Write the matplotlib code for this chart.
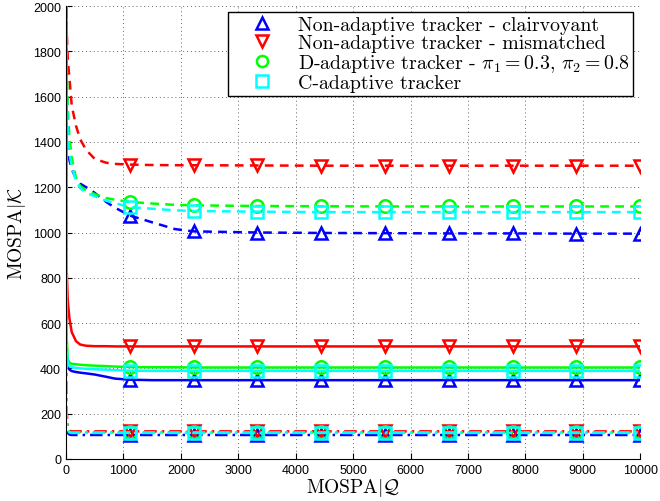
import numpy as np
import matplotlib
matplotlib.use("Agg")
import matplotlib.pyplot as plt
from matplotlib.lines import Line2D
from matplotlib.ticker import MultipleLocator

plt.rcParams['mathtext.fontset'] = 'cm'
plt.rcParams['font.family'] = ['Liberation Sans', 'DejaVu Sans']

# x samples (the marker positions are 1111, 2222, ... 10000)
x = [0, 10, 30, 60, 100, 175, 250, 350, 500, 700, 850,
     1111, 1500, 1900, 2222, 3333, 4444, 5555, 6666, 7777, 8888, 10000]
marker_idx = [11, 14, 15, 16, 17, 18, 19, 20, 21]

# dashed curves
blue_dash = [2000, 1700, 1420, 1320, 1280, 1237, 1215, 1200, 1175, 1135, 1110,
             1075, 1045, 1015, 1005, 1000, 998, 997, 996, 996, 995, 995]
red_dash = [2000, 1900, 1770, 1680, 1560, 1470, 1410, 1365, 1325, 1308, 1303,
            1300, 1298, 1297, 1297, 1296, 1295, 1295, 1295, 1295, 1295, 1295]
green_dash = [2000, 1750, 1550, 1420, 1330, 1240, 1205, 1185, 1170, 1152, 1145,
              1135, 1128, 1122, 1120, 1117, 1116, 1115, 1115, 1115, 1115, 1115]
cyan_dash = [2000, 1650, 1450, 1350, 1290, 1230, 1195, 1175, 1160, 1140, 1130,
             1112, 1105, 1098, 1095, 1092, 1090, 1090, 1090, 1090, 1090, 1090]

# solid curves
blue_solid = [2000, 450, 405, 395, 388, 384, 381, 378, 373, 363, 355,
              350, 348, 348, 348, 348, 348, 348, 348, 348, 348, 348]
red_solid = [2000, 850, 700, 620, 560, 520, 505, 500, 498, 498, 497,
             497, 497, 497, 497, 497, 497, 497, 497, 497, 497, 497]
green_solid = [2000, 550, 440, 425, 420, 418, 416, 414, 412, 410, 408,
               406, 405, 405, 404, 404, 404, 404, 404, 404, 404, 404]
cyan_solid = [2000, 500, 425, 410, 405, 402, 400, 398, 396, 394, 392,
              390, 389, 389, 389, 389, 389, 389, 389, 389, 389, 389]

# dash-dot curves
blue_dd = [2000, 150, 115, 108, 106, 106, 106, 106, 106, 106, 106,
           106, 106, 106, 106, 106, 106, 106, 106, 106, 106, 106]
red_dd = [2000, 220, 140, 125, 122, 122, 122, 122, 122, 122, 122,
          122, 122, 122, 122, 122, 122, 122, 122, 122, 122, 122]
green_dd = [2000, 180, 130, 120, 118, 118, 118, 118, 118, 118, 118,
            118, 118, 118, 118, 118, 118, 118, 118, 118, 118, 118]
cyan_dd = [2000, 170, 125, 117, 115, 115, 115, 115, 115, 115, 115,
           115, 115, 115, 115, 115, 115, 115, 115, 115, 115, 115]

labels = ['Non-adaptive tracker - clairvoyant',
          'Non-adaptive tracker - mismatched',
          r'D-adaptive tracker - $\pi_1 = 0.3$, $\pi_2 = 0.8$',
          'C-adaptive tracker']
colors = ['#0000ff', '#ff0000', '#00ff00', '#00ffff']
markers = ['^', 'v', 'o', 's']

dashed = [blue_dash, red_dash, green_dash, cyan_dash]
solid = [blue_solid, red_solid, green_solid, cyan_solid]
dashdot = [blue_dd, red_dd, green_dd, cyan_dd]

fig = plt.figure(figsize=(6.6, 5.02), dpi=100)
ax = fig.add_axes([0.1, 0.0837, 0.87, 0.9023])

styles = [(dashed, (0, (3.5, 2.5))), (solid, '-'), (dashdot, (0, (5, 2, 1, 2)))]
for data, ls in styles:
    for i in range(4):
        ax.plot(x, data[i], color=colors[i], linestyle=ls, lw=1.8,
                marker=markers[i], markevery=marker_idx, markersize=9,
                markerfacecolor='none', markeredgewidth=1.8)

ax.set_xlim(0, 10000)
ax.set_ylim(0, 2000)
ax.xaxis.set_major_locator(MultipleLocator(1000))
ax.yaxis.set_major_locator(MultipleLocator(200))
ax.grid(True, linestyle=(0, (1, 3)), color='#666666', lw=0.7)
ax.spines['top'].set_visible(False)
ax.spines['right'].set_visible(False)
ax.tick_params(direction='in', length=4, labelsize=9, width=0.8)

ax.set_xlabel(r'$\mathrm{MOSPA}|\mathcal{Q}$', fontsize=14, labelpad=0)
ax.set_ylabel(r'$\mathrm{MOSPA}|\mathcal{K}$', fontsize=14, labelpad=4)

handles = [Line2D([], [], color=colors[i], marker=markers[i], linestyle='none',
                  markersize=8, markerfacecolor='none', markeredgewidth=1.8)
           for i in range(4)]
leg = ax.legend(handles, labels, loc='upper right', bbox_to_anchor=(0.988, 0.987),
                prop={'family': 'cmr10', 'size': 14.3}, frameon=True, fancybox=False,
                edgecolor='black', framealpha=1, borderpad=0.2, labelspacing=0.0,
                handletextpad=0.3, handlelength=3.0, borderaxespad=0)
leg.get_frame().set_linewidth(1.0)

fig.savefig('out.png', dpi=100)
